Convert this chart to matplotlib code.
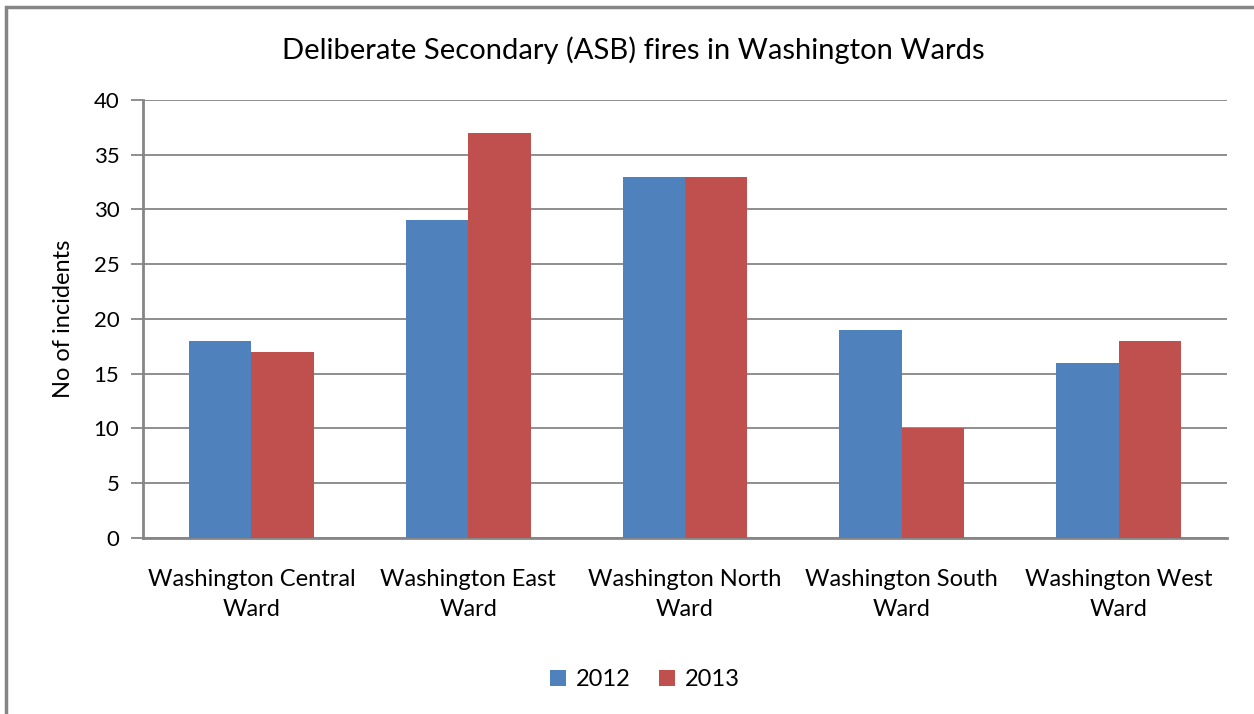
import numpy as np
import matplotlib
matplotlib.use("Agg")
import matplotlib.pyplot as plt
from matplotlib.patches import Rectangle

plt.rcParams['font.family'] = ['Lato', 'DejaVu Sans']

# data
wards = ["Washington Central\nWard", "Washington East\nWard", "Washington North\nWard",
         "Washington South\nWard", "Washington West\nWard"]
fires_2012 = [18, 29, 33, 19, 16]
fires_2013 = [17, 37, 33, 10, 18]
y_ticks = [0, 5, 10, 15, 20, 25, 30, 35, 40]

blue = '#4F81BD'
red = '#C0504D'
grid_grey = '#868686'

fig = plt.figure(figsize=(12.54, 7.14), dpi=100)
ax = fig.add_axes([0.114, 0.2465, 0.8645, 0.6135])

x = np.arange(len(wards))
w = 0.288
ax.bar(x - w / 2, fires_2012, w, color=blue, label='2012', zorder=3)
ax.bar(x + w / 2, fires_2013, w, color=red, label='2013', zorder=3)

ax.set_xlim(-0.5, len(wards) - 0.5)
ax.set_ylim(0, 40)
ax.set_yticks(y_ticks)
ax.yaxis.grid(True, color=grid_grey, linewidth=1.3, zorder=0)
ax.tick_params(axis='y', length=9, width=1.3, color=grid_grey, labelsize=16, pad=8)
ax.set_xticks(x)
ax.set_xticklabels(wards, fontsize=17, linespacing=1.55)
ax.tick_params(axis='x', length=0, pad=22)

for side in ['top', 'right']:
    ax.spines[side].set_visible(False)
for side in ['left', 'bottom']:
    ax.spines[side].set_color(grid_grey)
    ax.spines[side].set_linewidth(2)

ax.set_ylabel('No of incidents', fontsize=17, labelpad=14)
fig.text(0.505, 0.93, 'Deliberate Secondary (ASB) fires in Washington Wards',
         ha='center', va='center', fontsize=21)

fig.legend(loc='center', bbox_to_anchor=(0.514, 0.048), ncol=2, frameon=False,
           fontsize=17, handlelength=0.7, handleheight=0.7, columnspacing=1.2,
           handletextpad=0.4)

# outer chart border (left and top edges visible)
fig.add_artist(Rectangle((6 / 1254, -0.1), 1.2, (714 - 7) / 714 + 0.1,
                         transform=fig.transFigure, fill=False,
                         edgecolor=grid_grey, linewidth=2.5))

fig.savefig('out.png', dpi=100)
